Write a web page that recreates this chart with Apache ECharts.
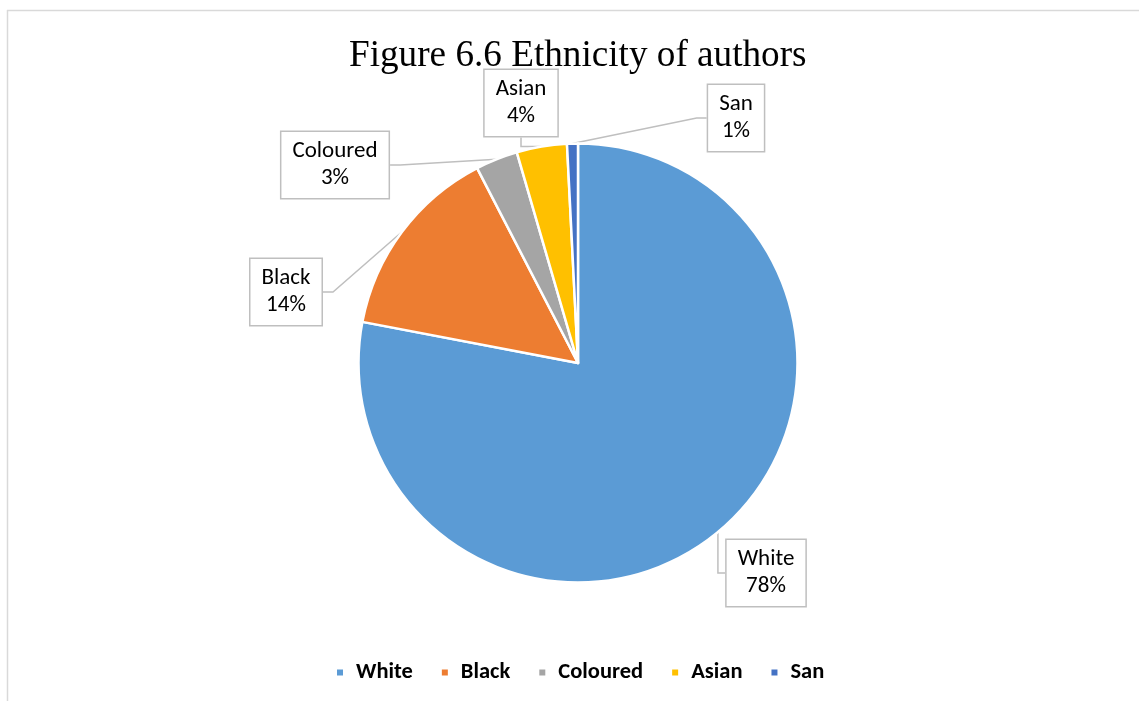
<!DOCTYPE html>
<html>
<head>
<meta charset="utf-8">
<script src="https://cdn.jsdelivr.net/npm/echarts@6/dist/echarts.min.js"></script>
<style>
html,body{margin:0;padding:0;background:#fff;}
#main{width:1139px;height:701px;}
</style>
</head>
<body>
<div id="main"></div>
<script>
// ---- data ----
var categories = ['White', 'Black', 'Coloured', 'Asian', 'San'];
var values = [78.0, 14.4, 3.1, 3.7, 0.8];
var colors = ['#5B9BD5', '#ED7D31', '#A5A5A5', '#FFC000', '#4472C4'];
var titleText = 'Figure 6.6 Ethnicity of authors';

// label box centres, offset (px) from pie centre
var labelOffsets = [[188, 210], [-292, -71], [-243, -198], [-57, -260], [158, -245]];

var chart = echarts.init(document.getElementById('main'));
var pieData = categories.map(function (c, i) {
  return { name: c, value: values[i], itemStyle: { color: colors[i] } };
});

var labelFont = 'Carlito, Lato, sans-serif';

chart.setOption({
  backgroundColor: '#ffffff',
  animation: false,
  title: {
    text: titleText,
    left: 344,
    top: 33,
    textStyle: { fontFamily: '"Liberation Serif", "Times New Roman", serif', fontWeight: 'normal', fontSize: 37.2, color: '#000' }
  },
  legend: {
    bottom: 12,
    left: 330,
    icon: 'rect',
    itemWidth: 8,
    itemHeight: 8,
    itemGap: 27,
    data: categories,
    textStyle: { fontFamily: labelFont, fontWeight: 'bold', fontSize: 22.5, color: '#000', padding: [0, 0, 0, 7] }
  },
  graphic: [
    { type: 'line', shape: { x1: 7, y1: 10.5, x2: 1139, y2: 10.5 }, style: { stroke: '#D9D9D9', lineWidth: 1.5 }, silent: true },
    { type: 'line', shape: { x1: 7.5, y1: 10, x2: 7.5, y2: 701 }, style: { stroke: '#D9D9D9', lineWidth: 1.5 }, silent: true }
  ],
  series: [{
    type: 'pie',
    center: [578, 363],
    radius: 219.5,
    startAngle: 90,
    clockwise: true,
    data: pieData,
    itemStyle: { borderColor: '#ffffff', borderWidth: 2.5 },
    label: {
      show: true,
      formatter: function (p) { return p.name + '\n' + Math.round(p.percent) + '%'; },
      fontFamily: labelFont,
      fontSize: 23,
      lineHeight: 27,
      color: '#000',
      align: 'center',
      backgroundColor: '#ffffff',
      borderColor: '#BFBFBF',
      borderWidth: 1.5,
      padding: [6, 11]
    },
    labelLine: { show: true, length: 10, length2: 10, lineStyle: { color: '#BFBFBF', width: 1.5 } },
    labelLayout: function (p) {
      var o = labelOffsets[p.dataIndex];
      return { x: 578 + o[0], y: 363 + o[1], align: 'center', verticalAlign: 'middle' };
    }
  }]
});
</script>
</body>
</html>
